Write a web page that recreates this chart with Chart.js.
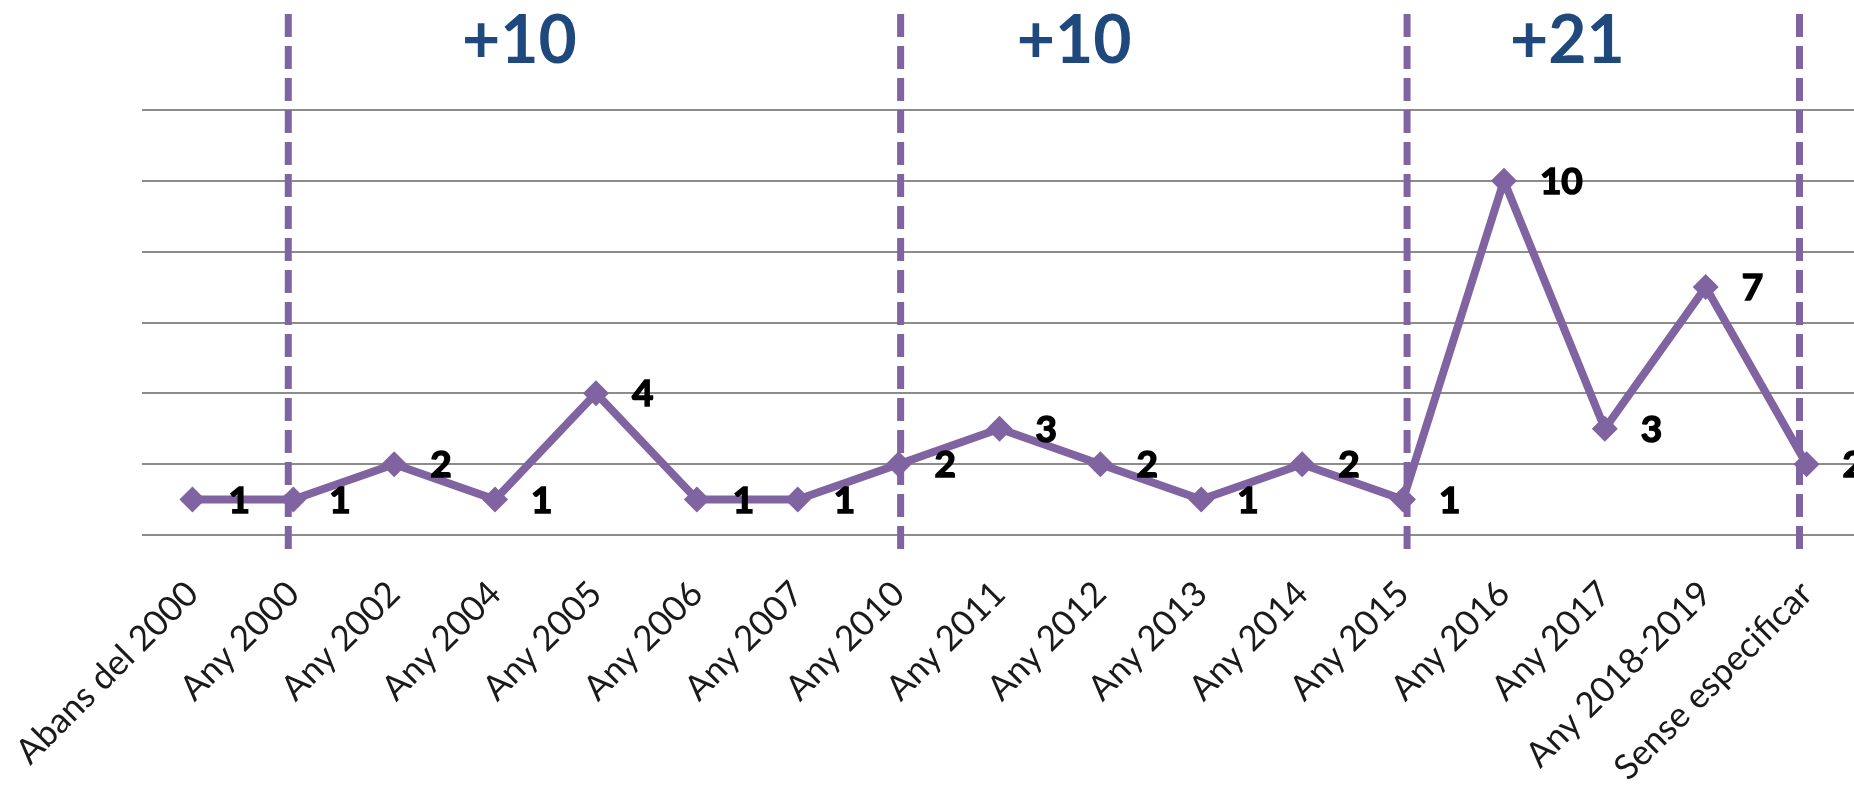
<!DOCTYPE html>
<html>
<head>
<meta charset="utf-8">
<script src="https://cdn.jsdelivr.net/npm/chart.js@4/dist/chart.umd.min.js"></script>
<style>
  html, body { margin: 0; padding: 0; background: #fff; overflow: hidden; }
  #wrap { width: 1870px; height: 799px; position: relative; }
</style>
</head>
<body>
<div id="wrap"><canvas id="chart_1"></canvas></div>
<script>
var categories = [
  'Abans del 2000', 'Any 2000', 'Any 2002', 'Any 2004', 'Any 2005', 'Any 2006',
  'Any 2007', 'Any 2010', 'Any 2011', 'Any 2012', 'Any 2013', 'Any 2014',
  'Any 2015', 'Any 2016', 'Any 2017', 'Any 2018-2019', 'Sense especificar'
];
var values = [1, 1, 2, 1, 4, 1, 1, 2, 3, 2, 1, 2, 1, 10, 3, 7, 2];

// period totals shown above the chart
var periodLabels = ['+10', '+10', '+21'];

var PURPLE = '#8064A2';

// dashed separators + period totals, positioned on the category scale
var periodsPlugin = {
  id: 'periods',
  afterDatasetsDraw: function (chart, args, opts) {
    var ctx = chart.ctx;
    var xs = chart.scales.x;
    ctx.save();
    ctx.strokeStyle = PURPLE;
    ctx.lineWidth = 7;
    ctx.setLineDash([23, 9]);
    opts.dividers.forEach(function (pos) {
      var x = xs.getPixelForValue(pos);
      ctx.beginPath();
      ctx.moveTo(x, 14);
      ctx.lineTo(x, 549);
      ctx.stroke();
    });
    ctx.setLineDash([]);
    ctx.fillStyle = '#1F497D';
    ctx.font = 'bold 66px Lato';
    ctx.textAlign = 'center';
    ctx.textBaseline = 'alphabetic';
    periodLabels.forEach(function (txt, i) {
      var x = xs.getPixelForValue(opts.centers[i]);
      ctx.fillText(txt, x, 63);
    });
    ctx.restore();
  }
};

// value labels to the right of each marker
var valueLabelsPlugin = {
  id: 'valueLabels',
  afterDatasetsDraw: function (chart) {
    var ctx = chart.ctx;
    var meta = chart.getDatasetMeta(0);
    ctx.save();
    ctx.fillStyle = '#000';
    ctx.strokeStyle = '#000';
    ctx.lineWidth = 1.5;
    ctx.font = 'bold 37px Lato';
    ctx.textAlign = 'left';
    ctx.textBaseline = 'alphabetic';
    meta.data.forEach(function (pt, i) {
      ctx.fillText(String(values[i]), pt.x + 36, pt.y + 13);
      ctx.strokeText(String(values[i]), pt.x + 36, pt.y + 13);
    });
    ctx.restore();
  }
};

var ctx = document.getElementById('chart_1').getContext('2d');
var chart = new Chart(ctx, {
  type: 'line',
  data: {
    labels: categories,
    datasets: [{
      data: values,
      borderColor: PURPLE,
      backgroundColor: PURPLE,
      borderWidth: 8,
      pointStyle: 'rectRot',
      pointRadius: 13,
      pointHoverRadius: 13,
      pointBorderWidth: 0,
      tension: 0
    }]
  },
  options: {
    responsive: true,
    maintainAspectRatio: false,
    animation: false,
    layout: { padding: { left: 142, right: 4, top: 110, bottom: 0 } },
    plugins: {
      legend: { display: false },
      tooltip: { enabled: false },
      periods: {
        dividers: [0.95, 7.02, 12.04, 15.93],
        centers: [3.24, 8.74, 13.63]
      }
    },
    scales: {
      x: {
        offset: true,
        grid: { display: false },
        border: { display: false },
        ticks: {
          autoSkip: false,
          minRotation: 45,
          maxRotation: 45,
          padding: 30,
          color: '#1a1a1a',
          font: { family: 'Lato', size: 35 }
        },
        afterFit: function (scale) {
          scale.height = 264;
          // labels hang into the left margin; keep the plot area where the layout puts it
          scale.paddingLeft = 0;
          scale.paddingRight = 0;
        }
      },
      y: {
        min: 0,
        max: 12,
        ticks: { display: false, stepSize: 2 },
        border: { display: false },
        grid: { color: '#8c8c8c', lineWidth: 2, drawTicks: false }
      }
    }
  },
  plugins: [periodsPlugin, valueLabelsPlugin]
});
</script>
</body>
</html>
